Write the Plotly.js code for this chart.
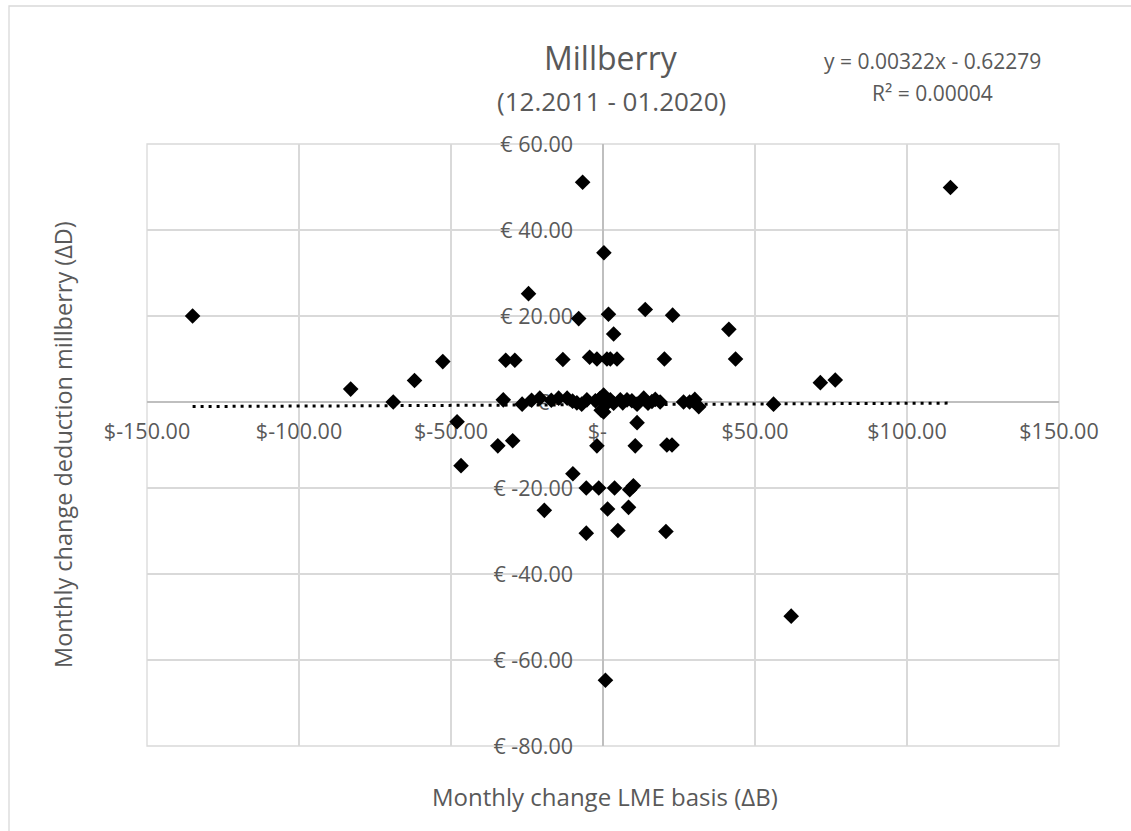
<!DOCTYPE html>
<html>
<head>
<meta charset="utf-8">
<script src="https://cdn.plot.ly/plotly-3.0.1.min.js"></script>
<style>html,body{margin:0;padding:0;background:#fff;}#chart{width:1131px;height:831px;}</style>
</head>
<body>
<div id="chart"></div>
<script>
// Monthly change LME basis (ΔB), $
const basisChange = [
  -135, -83, -69, -62, -52.7, -48, -46.7, -34.6, -32.8, -32, -29, -29.7,
  -26.6, -23.5, -20.8, -24.5, -19.3, -17, -14.6, -13.2, -11.8, -10, -9.9, -8.6,
  -8, -7, -6.7, -5.5, -5.5, -5.3, -4.4, -2, -2.5, -2, -1.4, -1,
  -0.6, 0.2, 0.2, 0, 0.3, 0.8, 1, 1.3, 1.5, 1.8, 2.4, 2.4,
  3.5, 3.5, 3.8, 4.6, 4.9, 5.7, 6.5, 7.9, 8.4, 8.8, 9.5, 10,
  10.6, 11.2, 11.2, 13.4, 13.9, 14.8, 16.1, 17.2, 18.8, 20.2, 20.7, 21,
  22.7, 22.9, 26.5, 28.5, 30.2, 31.5, 41.4, 43.6, 56.1, 61.9, 71.5, 76.4,
  114.3
];
// Monthly change deduction millberry (ΔD), €
const deductionChange = [
  20, 3, 0, 5, 9.4, -4.6, -14.8, -10.2, 0.5, 9.7, 9.7, -9,
  -0.5, 0.4, 0.9, 25.2, -25.2, 0.4, 0.9, 9.9, 0.9, 0.2, -16.7, -0.2,
  19.4, -0.5, 51.1, -20, -30.5, 0.5, 10.4, 10, 0.3, -10.2, -20, 0.8,
  -1.9, 1.6, -2.3, 0, 34.7, -64.7, -0.5, 10, -24.9, 20.4, 10, 0.5,
  15.8, -0.3, -20, 10, -29.9, 0.5, -0.2, 0.5, -24.5, -20.4, 0.3, -19.5,
  -10.2, -0.5, -4.8, 0.9, 21.5, -0.3, 0.1, 0.6, 0, 10, -30.1, -10,
  -10, 20.2, 0, 0, 0.6, -1.1, 16.9, 10, -0.5, -49.8, 4.5, 5.1,
  49.9
];
// Linear trendline reported on the chart
const slope = 0.00322;
const intercept = -0.62279;
const equationText = "y = 0.00322x - 0.62279";
const r2Text = "R² = 0.00004";

// Axis ticks
const xTickVals = [-150, -100, -50, 0, 50, 100, 150];
const xTickText = ["$-150.00", "$-100.00", "$-50.00", "$-\u00a0\u00a0", "$50.00", "$100.00", "$150.00"];
const yTickVals = [-80, -60, -40, -20, 0, 20, 40, 60];
const yTickText = ["€ -80.00", "€ -60.00", "€ -40.00", "€ -20.00", "€ -\u00a0\u00a0", "€ 20.00", "€ 40.00", "€ 60.00"];

const chartTitle = "Millberry";
const chartSubtitle = "(12.2011 - 01.2020)";
const xTitle = "Monthly change LME basis (ΔB)";
const yTitle = "Monthly change deduction millberry (ΔD)";

const xMin = Math.min(...basisChange), xMax = Math.max(...basisChange);
const trendX = [xMin, xMax];
const trendY = trendX.map(v => slope * v + intercept);

const font = "'Open Sans', 'Liberation Sans', sans-serif";
const grey = "#595959";

const traces = [
  {
    x: trendX, y: trendY, type: "scatter", mode: "lines",
    line: {color: "#000", width: 3, dash: "3px,5px"},
    hoverinfo: "skip", showlegend: false
  },
  {
    x: basisChange, y: deductionChange, type: "scatter", mode: "markers",
    marker: {symbol: "diamond", size: 12, color: "#000", line: {width: 0}},
    showlegend: false
  }
];

const layout = {
  width: 1131, height: 831,
  margin: {l: 147, r: 72, t: 144, b: 85, pad: 0},
  paper_bgcolor: "#fff", plot_bgcolor: "#fff",
  font: {family: font, color: grey, size: 20},
  showlegend: false,
  xaxis: {
    range: [-150, 150], tickmode: "array", tickvals: xTickVals, ticktext: xTickText,
    showgrid: true, gridcolor: "#d9d9d9", gridwidth: 1.3,
    zeroline: true, zerolinecolor: "#bfbfbf", zerolinewidth: 1.3,
    showline: false, ticks: "", anchor: "free", position: 80 / 140,
    layer: "below traces", ticklabelstandoff: 14,
    tickfont: {family: font, size: 21.5, color: grey}, fixedrange: true
  },
  yaxis: {
    range: [-80, 60], tickmode: "array", tickvals: yTickVals, ticktext: yTickText,
    showgrid: true, gridcolor: "#d9d9d9", gridwidth: 1.3,
    zeroline: true, zerolinecolor: "#bfbfbf", zerolinewidth: 1.3,
    showline: false, ticks: "", anchor: "free", position: 0.5,
    layer: "below traces", ticklabelstandoff: 30,
    tickfont: {family: font, size: 21.5, color: grey}, fixedrange: true
  },
  shapes: [
    {type: "rect", xref: "paper", yref: "paper", x0: 0, x1: 1, y0: 0, y1: 1,
     line: {color: "#d9d9d9", width: 1.3}, layer: "below"},
    {type: "rect", xref: "paper", yref: "paper", x0: (9 - 147) / 912, x1: 1.3, y0: -0.3, y1: (746 - 6) / 602,
     line: {color: "#d9d9d9", width: 1.3}, layer: "below"}
  ],
  annotations: [
    {text: chartTitle, xref: "paper", yref: "paper", x: (611 - 147) / 912, y: (746 - 57) / 602,
     xanchor: "center", yanchor: "middle", showarrow: false, font: {family: font, size: 32, color: grey}},
    {text: chartSubtitle, xref: "paper", yref: "paper", x: (611 - 147) / 912, y: (746 - 101) / 602,
     xanchor: "center", yanchor: "middle", showarrow: false, font: {family: font, size: 26, color: grey}},
    {text: equationText, xref: "paper", yref: "paper", x: (932 - 147) / 912, y: (746 - 61) / 602,
     xanchor: "center", yanchor: "middle", showarrow: false, font: {family: font, size: 21, color: grey}},
    {text: r2Text, xref: "paper", yref: "paper", x: (932 - 147) / 912, y: (746 - 93) / 602,
     xanchor: "center", yanchor: "middle", showarrow: false, font: {family: font, size: 21, color: grey}},
    {text: xTitle, xref: "paper", yref: "paper", x: (605 - 147) / 912, y: (746 - 796) / 602,
     xanchor: "center", yanchor: "middle", showarrow: false, font: {family: font, size: 24, color: grey}},
    {text: yTitle, xref: "paper", yref: "paper", x: (63 - 147) / 912, y: (746 - 445) / 602,
     xanchor: "center", yanchor: "middle", textangle: -90, showarrow: false, font: {family: font, size: 23.5, color: grey}}
  ]
};

Plotly.newPlot("chart", traces, layout, {displayModeBar: false, staticPlot: true});
</script>
</body>
</html>
